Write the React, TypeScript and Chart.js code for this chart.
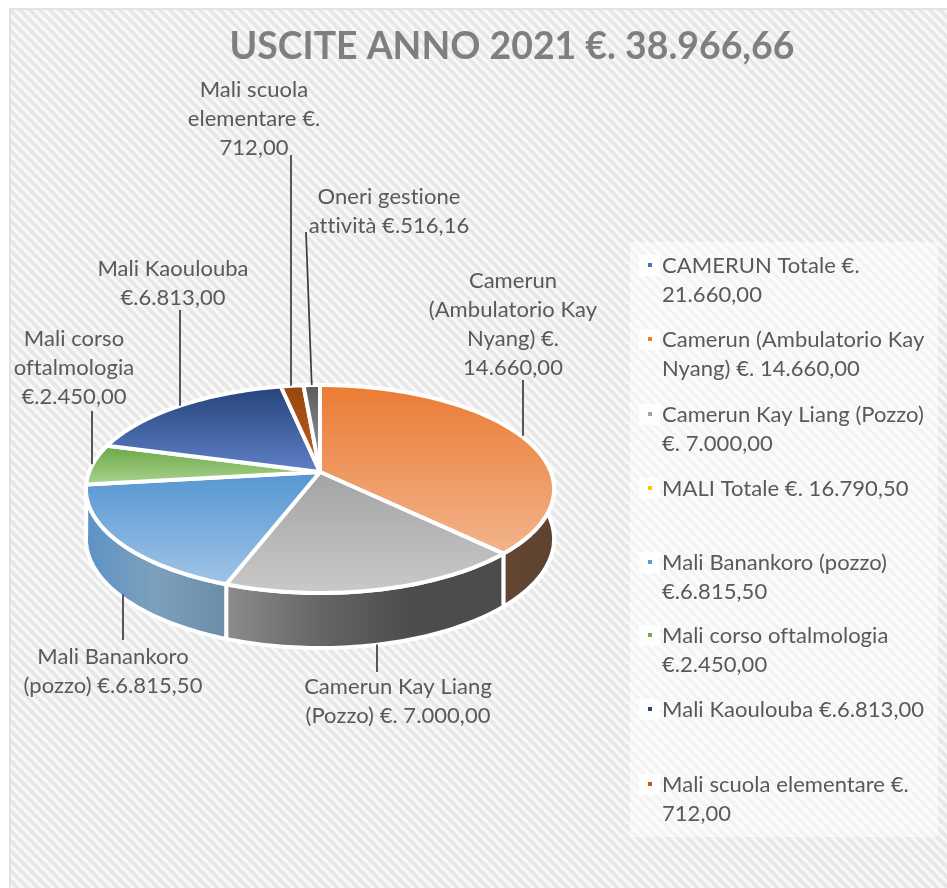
import React, { useEffect, useRef } from "react";
import { Chart, registerables } from "chart.js";

Chart.register(...registerables);

const titleText = "USCITE ANNO 2021 €. 38.966,66";

const categories = [
  "CAMERUN Totale",
  "Camerun (Ambulatorio Kay Nyang)",
  "Camerun Kay Liang (Pozzo)",
  "MALI Totale",
  "Mali Banankoro (pozzo)",
  "Mali corso oftalmologia",
  "Mali Kaoulouba",
  "Mali scuola elementare",
  "Oneri gestione attività",
];
const values = [0, 14660, 7000, 0, 6815.5, 2450, 6813, 712, 516.16];

const sliceLabels = [
  null,
  ["Camerun", "(Ambulatorio Kay", "Nyang) €.", "14.660,00"],
  ["Camerun Kay Liang", "(Pozzo) €. 7.000,00"],
  null,
  ["Mali Banankoro", "(pozzo) €.6.815,50"],
  ["Mali corso", "oftalmologia", "€.2.450,00"],
  ["Mali Kaoulouba", "€.6.813,00"],
  ["Mali scuola", "elementare €.", "712,00"],
  ["Oneri gestione", "attività €.516,16"],
];

const legendLines = [
  ["CAMERUN Totale €.", "21.660,00"],
  ["Camerun (Ambulatorio Kay", "Nyang) €. 14.660,00"],
  ["Camerun Kay Liang (Pozzo)", "€. 7.000,00"],
  ["MALI Totale €. 16.790,50"],
  ["Mali Banankoro (pozzo)", "€.6.815,50"],
  ["Mali corso oftalmologia", "€.2.450,00"],
  ["Mali Kaoulouba €.6.813,00"],
  ["Mali scuola elementare €.", "712,00"],
];

const seriesColors = ["#4472C4", "#ED7D31", "#A5A5A5", "#FFC000", "#5B9BD5", "#70AD47", "#264478", "#C55A11", "#636363"];

// Style tables
const topGradients: (string[] | null)[] = [
  null,
  ["#EB7B33", "#F2B48C"],
  ["#A3A3A3", "#C9C9C9"],
  null,
  ["#5596D2", "#A0C4E6"],
  ["#6BA745", "#A9D38F"],
  ["#26437A", "#5E80C6"],
  ["#96460E", "#C0601C"],
  ["#5A5A5A", "#A0A0A0"],
];
const wallGradients: (string[] | null)[] = [
  null,
  ["#634634", "#5E4230"],
  ["#8C8C8C", "#666666", "#4C4C4C", "#4C4C4C"],
  null,
  ["#5E93C6", "#7DA0BB", "#6C8CA8"],
  null,
  null,
  null,
  null,
];

// Layout tables
const FONT = "Lato, Carlito, sans-serif";
const LABEL_SIZE = 22;
const TEXT = "#595959";
const labelLayout: ({ cx: number; y: number; lh: number; lx: number; ly: number; wall?: boolean; slant?: boolean } | null)[] = [
  null,
  { cx: 513, y: 281, lh: 29, lx: 523, ly: 380 },
  { cx: 398, y: 687, lh: 29, lx: 377, ly: 672, wall: true },
  null,
  { cx: 113, y: 657, lh: 29, lx: 123, ly: 640, wall: true },
  { cx: 74, y: 339, lh: 29, lx: 92, ly: 411 },
  { cx: 173, y: 269, lh: 29, lx: 180, ly: 310 },
  { cx: 254, y: 90, lh: 29, lx: 291, ly: 155 },
  { cx: 389, y: 197, lh: 29, lx: 306, ly: 232, slant: true },
];
const legendY = [266, 340, 415, 489, 563, 636, 710, 785];

const PIE = { cx: 320, cy: 472, a: 230.9, b: 101.2, k: -0.1635, drop: 49, bs: 1.05, as: 1.0 };

function proj(ang: number, r: number, bottom: boolean): [number, number] {
  const x = r * Math.cos(ang);
  const y = r * Math.sin(ang);
  const w = 1 + PIE.k * y;
  if (bottom) return [PIE.cx + (PIE.a * PIE.as * x) / w, PIE.cy + PIE.drop + (PIE.b * PIE.bs * y) / w];
  return [PIE.cx + (PIE.a * x) / w, PIE.cy + (PIE.b * y) / w];
}

function rimPoints(a0: number, a1: number, bottom: boolean) {
  const n = Math.max(2, Math.ceil(Math.abs(a1 - a0) / 0.02));
  const pts: [number, number][] = [];
  for (let i = 0; i <= n; i++) pts.push(proj(a0 + ((a1 - a0) * i) / n, 1, bottom));
  return pts;
}

function hatch(ctx: CanvasRenderingContext2D) {
  const size = 10;
  const c = document.createElement("canvas");
  c.width = size;
  c.height = size;
  const g = c.getContext("2d")!;
  g.fillStyle = "#FBFBFB";
  g.fillRect(0, 0, size, size);
  [
    ["#F0F0F0", 5.2],
    ["#E7E7E7", 3],
  ].forEach(([color, w]) => {
    g.strokeStyle = color as string;
    g.lineWidth = w as number;
    for (let i = -size; i <= size * 2; i += size) {
      g.beginPath();
      g.moveTo(i - size, -size);
      g.lineTo(i + size * 2, size * 2);
      g.stroke();
    }
  });
  return ctx.createPattern(c, "repeat")!;
}

const backgroundPlugin = {
  id: "hatchBackground",
  beforeDraw(chart: any) {
    const { ctx, width, height } = chart;
    ctx.save();
    ctx.fillStyle = "#FFFFFF";
    ctx.fillRect(0, 0, width, height);
    ctx.fillStyle = hatch(ctx);
    ctx.fillRect(10, 9, width - 10, height - 9);
    ctx.strokeStyle = "#DCDCDC";
    ctx.lineWidth = 1.5;
    ctx.beginPath();
    ctx.moveTo(10, height);
    ctx.lineTo(10, 9);
    ctx.lineTo(width, 9);
    ctx.stroke();
    ctx.restore();
  },
};

const pie3dPlugin = {
  id: "pie3d",
  beforeDatasetDraw(chart: any, args: any) {
    const { ctx } = chart;
    const meta = chart.getDatasetMeta(args.index);
    const arcs = meta.data as any[];
    const lo = -0.1;
    ctx.save();
    ctx.lineJoin = "round";
    // side wall
    arcs.forEach((arc, i) => {
      if (!wallGradients[i] || arc.endAngle - arc.startAngle <= 0) return;
      const s = Math.max(arc.startAngle, lo);
      const e = arc.endAngle;
      if (e <= s) return;
      const top = rimPoints(s, e, false);
      const bot = rimPoints(e, s, true);
      const all = top.concat(bot);
      const xs = all.map((p) => p[0]);
      const g = ctx.createLinearGradient(Math.min(...xs), 0, Math.max(...xs), 0);
      const stops = wallGradients[i]!;
      stops.forEach((c, j) => g.addColorStop(j / (stops.length - 1), c));
      ctx.beginPath();
      all.forEach((p, j) => (j ? ctx.lineTo(p[0], p[1]) : ctx.moveTo(p[0], p[1])));
      ctx.closePath();
      ctx.fillStyle = g;
      ctx.fill();
      ctx.strokeStyle = "#FFFFFF";
      ctx.lineWidth = 4;
      ctx.stroke();
    });
    // top face
    arcs.forEach((arc, i) => {
      if (!topGradients[i] || arc.endAngle - arc.startAngle <= 0) return;
      const rim = rimPoints(arc.startAngle, arc.endAngle, false);
      const ys = rim.map((p) => p[1]).concat(PIE.cy);
      const g = ctx.createLinearGradient(0, Math.min(...ys), 0, Math.max(...ys));
      g.addColorStop(0, topGradients[i]![0]);
      g.addColorStop(1, topGradients[i]![1]);
      ctx.beginPath();
      ctx.moveTo(PIE.cx, PIE.cy);
      rim.forEach((p) => ctx.lineTo(p[0], p[1]));
      ctx.closePath();
      ctx.fillStyle = g;
      ctx.fill();
      ctx.strokeStyle = "#FFFFFF";
      ctx.lineWidth = 4;
      ctx.stroke();
    });
    ctx.restore();
    return false;
  },
  afterDatasetsDraw(chart: any) {
    const { ctx } = chart;
    const arcs = chart.getDatasetMeta(0).data as any[];
    ctx.save();
    // leaders and data labels
    ctx.strokeStyle = "#3C3C3C";
    ctx.lineWidth = 1.7;
    ctx.font = `${LABEL_SIZE}px ${FONT}`;
    (ctx as any).letterSpacing = "0.05px";
    ctx.fillStyle = TEXT;
    ctx.textAlign = "center";
    ctx.textBaseline = "middle";
    arcs.forEach((arc, i) => {
      const lay = labelLayout[i];
      const lines = sliceLabels[i];
      if (!lay || !lines) return;
      const mid = (arc.startAngle + arc.endAngle) / 2;
      const p = proj(mid, 1, !!lay.wall);
      ctx.beginPath();
      ctx.moveTo(lay.lx, lay.ly);
      ctx.lineTo(lay.slant ? p[0] : lay.lx, p[1]);
      ctx.stroke();
      lines.forEach((t, j) => ctx.fillText(t, lay.cx, lay.y + j * lay.lh));
    });
    // legend
    ctx.fillStyle = "rgba(255,255,255,0.5)";
    ctx.fillRect(630, 242, 308, 595);
    ctx.textAlign = "left";
    legendLines.forEach((lines, i) => {
      const y = legendY[i];
      ctx.fillStyle = "rgba(255,255,255,0.85)";
      ctx.fillRect(639, y - 11, 21, 21);
      ctx.fillStyle = seriesColors[i];
      ctx.fillRect(648, y - 3, 4, 4);
      ctx.fillStyle = TEXT;
      lines.forEach((t, j) => ctx.fillText(t, 662, y + j * 29));
    });
    ctx.restore();
  },
};

export default function App() {
  const ref = useRef<HTMLCanvasElement>(null);
  useEffect(() => {
    const chart = new Chart(ref.current!, {
      type: "pie",
      data: {
        labels: categories,
        datasets: [{ data: values, backgroundColor: seriesColors, borderColor: "#FFFFFF" }],
      },
      options: {
        responsive: false,
        animation: false,
        rotation: 0,
        layout: { padding: { left: 77 } },
        plugins: {
          legend: { display: false },
          tooltip: { enabled: false },
          title: {
            display: true,
            text: titleText,
            color: "#7F7F7F",
            font: { family: FONT, size: 37.4, weight: "bold" },
            padding: { top: 24, bottom: 10 },
          },
        },
      },
      plugins: [backgroundPlugin, pie3dPlugin],
    } as any);
    return () => chart.destroy();
  }, []);
  return <canvas ref={ref} width={947} height={888} style={{ position: "absolute", left: 0, top: 0, display: "block" }} />;
}
